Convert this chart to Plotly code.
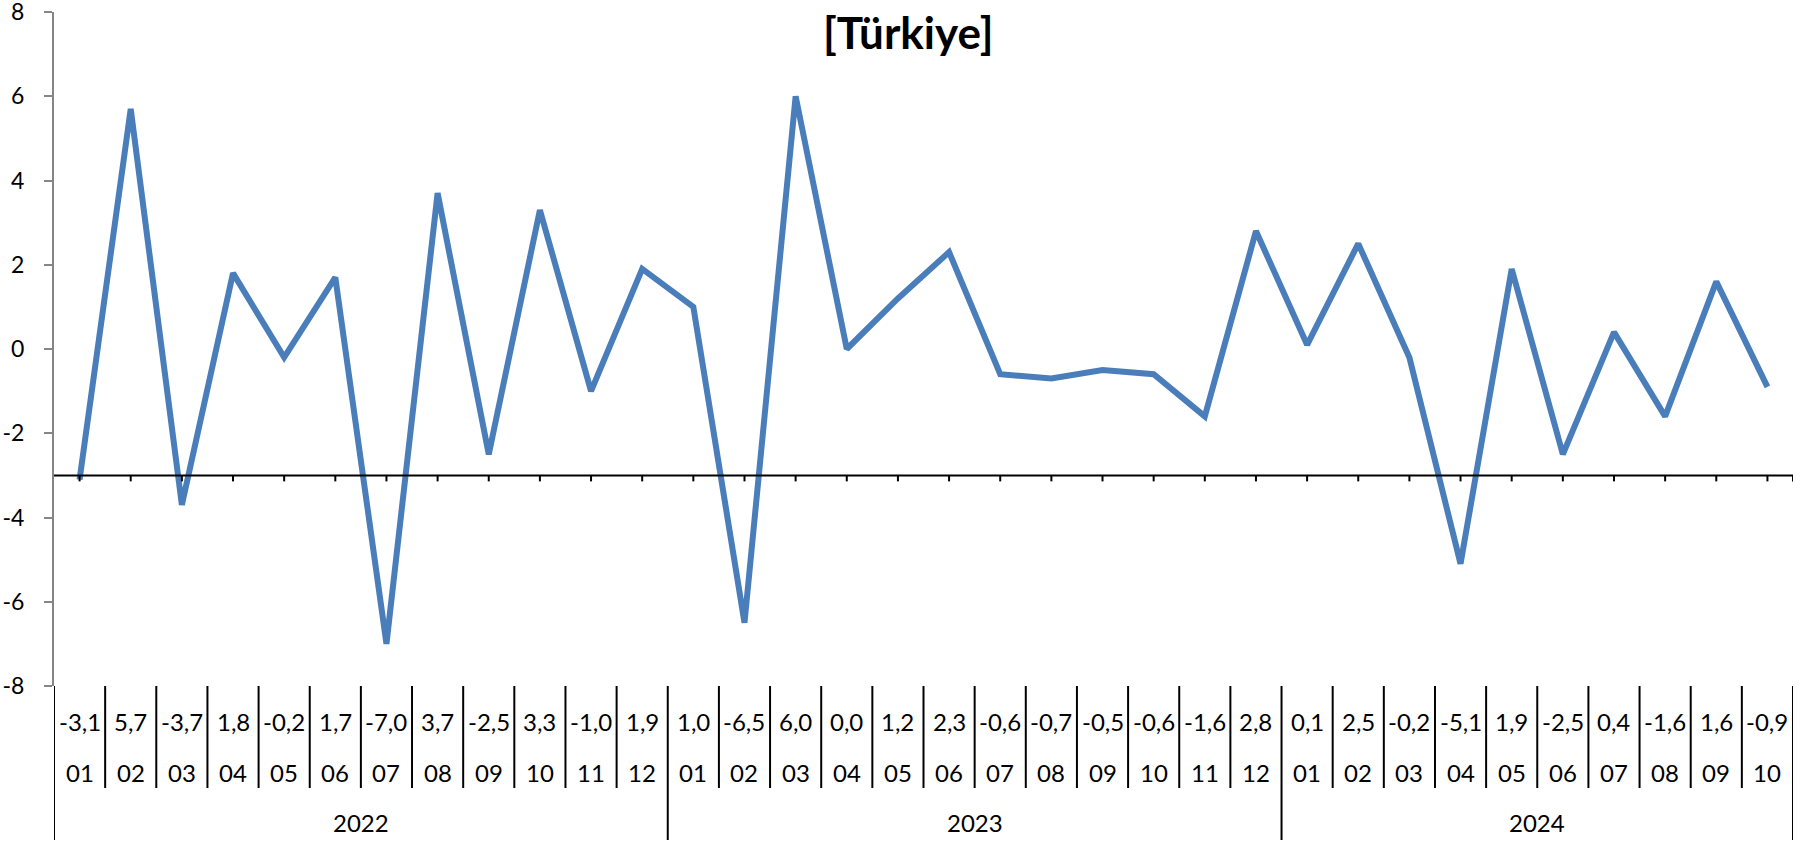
import plotly.graph_objects as go

years = ["2022"] * 12 + ["2023"] * 12 + ["2024"] * 10
months = ["01", "02", "03", "04", "05", "06", "07", "08", "09", "10", "11", "12",
          "01", "02", "03", "04", "05", "06", "07", "08", "09", "10", "11", "12",
          "01", "02", "03", "04", "05", "06", "07", "08", "09", "10"]
values = [-3.1, 5.7, -3.7, 1.8, -0.2, 1.7, -7.0, 3.7, -2.5, 3.3, -1.0, 1.9,
          1.0, -6.5, 6.0, 0.0, 1.2, 2.3, -0.6, -0.7, -0.5, -0.6, -1.6, 2.8,
          0.1, 2.5, -0.2, -5.1, 1.9, -2.5, 0.4, -1.6, 1.6, -0.9]
y_ticks = [-8, -6, -4, -2, 0, 2, 4, 6, 8]
title_text = "[Türkiye]"
cross_y = -3

W, H = 1801, 842
ML, MR, MT, MB = 54, 8, 12, 156
plot_h = H - MT - MB
plot_w = W - ML - MR
n = len(values)
xs = [i + 0.5 for i in range(n)]


def py2paper(py):
    return (H - MB - py) / plot_h


FONT = "Lato, 'Open Sans', sans-serif"
FS = 24
fig = go.Figure()
fig.add_trace(go.Scatter(x=xs, y=values, mode="lines",
                         line=dict(color="#4A7EBB", width=6),
                         hoverinfo="skip", showlegend=False))

shapes = []
# horizontal category axis crossing at y = -3
shapes.append(dict(type="line", xref="x", yref="y", x0=0, x1=n, y0=cross_y, y1=cross_y,
                   line=dict(color="black", width=2)))
unit_px = plot_h / (y_ticks[-1] - y_ticks[0])
tick_len = 6 / unit_px
for x in xs + [n]:
    shapes.append(dict(type="line", xref="x", yref="y", x0=x, x1=x,
                       y0=cross_y, y1=cross_y - tick_len,
                       line=dict(color="black", width=2)))

# table separators
year_bounds = [0]
for i in range(1, n):
    if years[i] != years[i - 1]:
        year_bounds.append(i)
year_bounds.append(n)
for b in range(n + 1):
    bottom = py2paper(840) if b in year_bounds else py2paper(788)
    shapes.append(dict(type="line", xref="x", yref="paper", x0=b, x1=b,
                       y0=0, y1=bottom, line=dict(color="black", width=2)))

annotations = []
common = dict(showarrow=False, xanchor="center", yanchor="middle")
for i, v in enumerate(values):
    label = f"{v:.1f}".replace(".", ",")
    annotations.append(dict(x=xs[i], y=py2paper(721), xref="x", yref="paper",
                            text=label, font=dict(size=FS, color="black", family=FONT),
                            **common))
    annotations.append(dict(x=xs[i], y=py2paper(772), xref="x", yref="paper",
                            text=months[i], font=dict(size=FS, color="black", family=FONT),
                            **common))
for a, b in zip(year_bounds[:-1], year_bounds[1:]):
    annotations.append(dict(x=(a + b) / 2, y=py2paper(822), xref="x", yref="paper",
                            text=years[a], font=dict(size=FS, color="black", family=FONT),
                            **common))

annotations.append(dict(x=(907.7 - ML) / plot_w, y=py2paper(32), xref="paper", yref="paper",
                        text=f"<b>{title_text}</b>",
                        font=dict(size=44, color="black", family=FONT), **common))

fig.update_layout(
    width=W, height=H,
    margin=dict(l=ML, r=MR, t=MT, b=MB, pad=0, autoexpand=False),
    paper_bgcolor="white", plot_bgcolor="white",
    xaxis=dict(range=[0, n], visible=False, fixedrange=True, automargin=False),
    yaxis=dict(range=[y_ticks[0], y_ticks[-1]], tickvals=y_ticks,
               ticktext=[str(t) for t in y_ticks],
               showgrid=False, zeroline=False, showline=True,
               linecolor="#868686", linewidth=2,
               ticks="outside", ticklen=8, tickcolor="#868686", tickwidth=2,
               tickfont=dict(size=23, color="black", family=FONT),
               ticklabelstandoff=15, ticklabeloverflow="allow",
               automargin=False, fixedrange=True),
    shapes=shapes, annotations=annotations,
)
fig.write_html("out.html", config={"displayModeBar": False},
               post_script="document.body.style.margin='0';document.body.style.overflow='hidden';")
